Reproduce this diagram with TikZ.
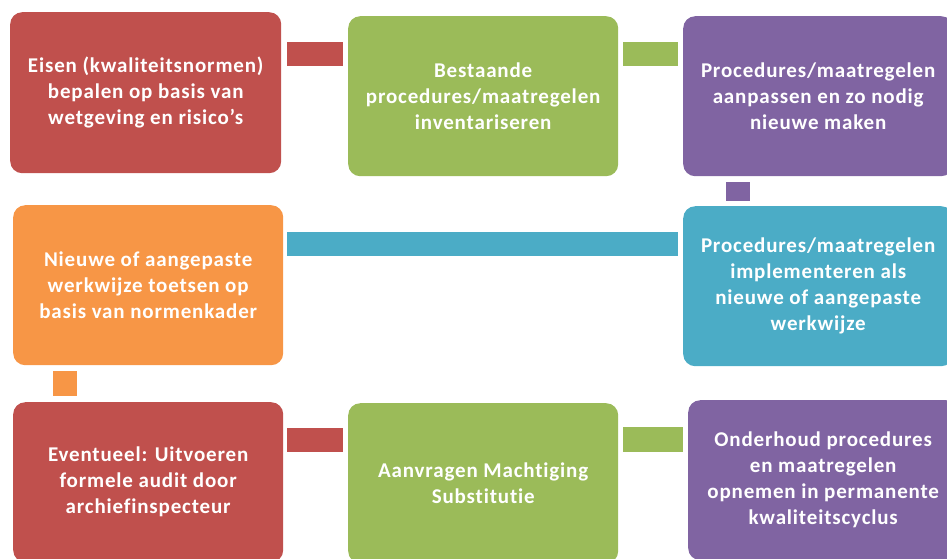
\documentclass[tikz,border=0pt]{standalone}
\usepackage{fontspec}
\setmainfont{Carlito}
\usetikzlibrary{calc}
\definecolor{accred}{HTML}{C0504D}
\definecolor{accgreen}{HTML}{9BBB59}
\definecolor{accpurple}{HTML}{8064A2}
\definecolor{accteal}{HTML}{4BACC6}
\definecolor{accorange}{HTML}{F79646}
\newfontfamily\stepfont[LetterSpace=4,Ligatures={NoCommon}]{Carlito}
\begin{document}
\begin{tikzpicture}[x=1pt,y=-1pt,
  stepbox/.style={rounded corners=12pt, minimum width=270pt, minimum height=160pt,
    inner sep=0pt, align=center, text=white, anchor=north west,
    font=\stepfont\bfseries\fontsize{21}{26}\selectfont},
]
\useasboundingbox (0,0) rectangle (947,558);
\clip (0,0) rectangle (947,558);

% process steps
\node[stepbox, fill=accred, minimum width=271pt, minimum height=161pt] (b1) at (10,12)
  {Eisen (kwaliteitsnormen)\\bepalen op basis van\\wetgeving en risico’s};
\node[stepbox, fill=accgreen] (b2) at (348,16)
  {Bestaande\\procedures/maatregelen\\inventariseren};
\node[stepbox, fill=accpurple] (b3) at (683,16)
  {Procedures/maatregelen\\aanpassen en zo nodig\\nieuwe maken};
\node[stepbox, fill=accteal] (b4) at (683,206)
  {Procedures/maatregelen\\implementeren als\\nieuwe of aangepaste\\werkwijze};
\node[stepbox, fill=accorange] (b5) at (13,205)
  {Nieuwe of aangepaste\\werkwijze toetsen op\\basis van normenkader};
\node[stepbox, fill=accred] (b6) at (13,402)
  {Eventueel: Uitvoeren\\formele audit door\\archiefinspecteur};
\node[stepbox, fill=accgreen] (b7) at (348,403)
  {Aanvragen Machtiging\\Substitutie};
\node[stepbox, fill=accpurple] (b8) at (688,400)
  {Onderhoud procedures\\en maatregelen\\opnemen in permanente\\kwaliteitscyclus};

% connecting bars between steps
\fill[accred]    ($(b1.north east)+(6,30)$)  rectangle ($(b2.north west)+(-5,50)$);
\fill[accgreen]  ($(b2.north east)+(5,26)$)  rectangle ($(b3.north west)+(-5,50)$);
\fill[accpurple] ($(b3.south west)+(43,6)$)  rectangle ($(b4.north west)+(67,-5)$);
\fill[accteal]   ($(b5.north east)+(4,27)$)  rectangle ($(b4.north west)+(-5,50)$);
\fill[accorange] ($(b5.south west)+(40,6)$)  rectangle ($(b6.north west)+(64,-6)$);
\fill[accred]    ($(b6.north east)+(4,26)$)  rectangle ($(b7.north west)+(-5,49)$);
\fill[accgreen]  ($(b7.north east)+(5,24)$)  rectangle ($(b8.north west)+(-5,52)$);
\end{tikzpicture}
\end{document}
